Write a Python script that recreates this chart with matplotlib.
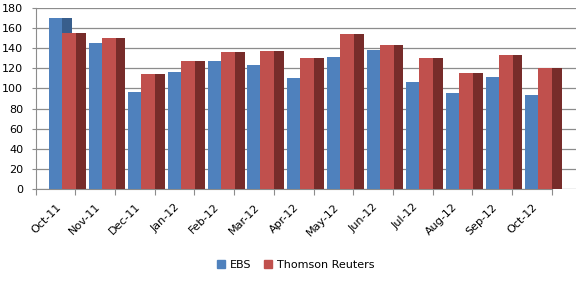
import matplotlib
matplotlib.use("Agg")
import matplotlib.pyplot as plt
from matplotlib.patches import Rectangle, Patch
import numpy as np

categories = ["Oct-11", "Nov-11", "Dec-11", "Jan-12", "Feb-12", "Mar-12", "Apr-12",
              "May-12", "Jun-12", "Jul-12", "Aug-12", "Sep-12", "Oct-12"]
ebs = [170, 145, 96, 116, 127, 123, 110, 131, 138, 106, 95, 111, 93]
thomson = [155, 150, 114, 127, 136, 137, 130, 154, 143, 130, 115, 133, 120]
yticks = [0, 20, 40, 60, 80, 100, 120, 140, 160, 180]

blue, blue_dark = "#4F81BD", "#385E8C"
red, red_dark = "#C0504D", "#772C2A"
grid_c = "#8C8C8C"

plt.rcParams["font.family"] = ["DejaVu Sans"]
fig = plt.figure(figsize=(5.8, 2.81), dpi=100)
ax = fig.add_axes([0.0616, 0.3263, 0.993 - 0.0616, 0.973 - 0.3263])

n = len(categories)
x = np.arange(n)
# bar geometry in category units (front face + darker side face)
b0, b1 = 0.335, 0.662
bs1 = 0.915
r0, r1 = 0.662, 1.015
rs1 = 1.26
ax.bar(x + b1, ebs, width=bs1 - b1, align="edge", color=blue_dark, zorder=2)
ax.bar(x + b0, ebs, width=b1 - b0, align="edge", color=blue, zorder=3)
ax.bar(x + r0, thomson, width=r1 - r0, align="edge", color=red, zorder=4)
ax.bar(x + r1, thomson, width=rs1 - r1, align="edge", color=red_dark, zorder=4)

ax.set_xlim(0, 13.61)
ax.set_ylim(0, 180)
ax.set_yticks(yticks)
ax.set_yticklabels([str(v) for v in yticks], fontsize=8)
ax.yaxis.grid(True, color=grid_c, linewidth=0.9, zorder=0)
ax.set_axisbelow(True)

ax.set_xticks(np.arange(n + 1))
ax.set_xticklabels([])
ax.set_xticks(x + 0.5, minor=True)
ax.set_xticklabels(categories, minor=True, rotation=45, ha="right",
                   rotation_mode="anchor", fontsize=8)
ax.tick_params(axis="x", which="minor", length=0, pad=9)
ax.tick_params(axis="x", which="major", length=4, color=grid_c, direction="out")
ax.tick_params(axis="y", length=3, color=grid_c, pad=6)

for s in ["top", "right"]:
    ax.spines[s].set_visible(False)
ax.spines["left"].set_color(grid_c)
ax.spines["bottom"].set_color(grid_c)
ax.spines["bottom"].set_bounds(0, 13)

handles = [Patch(color=blue, label="EBS"), Patch(color=red, label="Thomson Reuters")]
fig.legend(handles=handles, loc="center", bbox_to_anchor=(0.51, 0.057), ncol=2,
           frameon=False, fontsize=8, handlelength=0.7, handleheight=0.7,
           handletextpad=0.4, columnspacing=1.2)

fig.savefig("out.png", dpi=100)
